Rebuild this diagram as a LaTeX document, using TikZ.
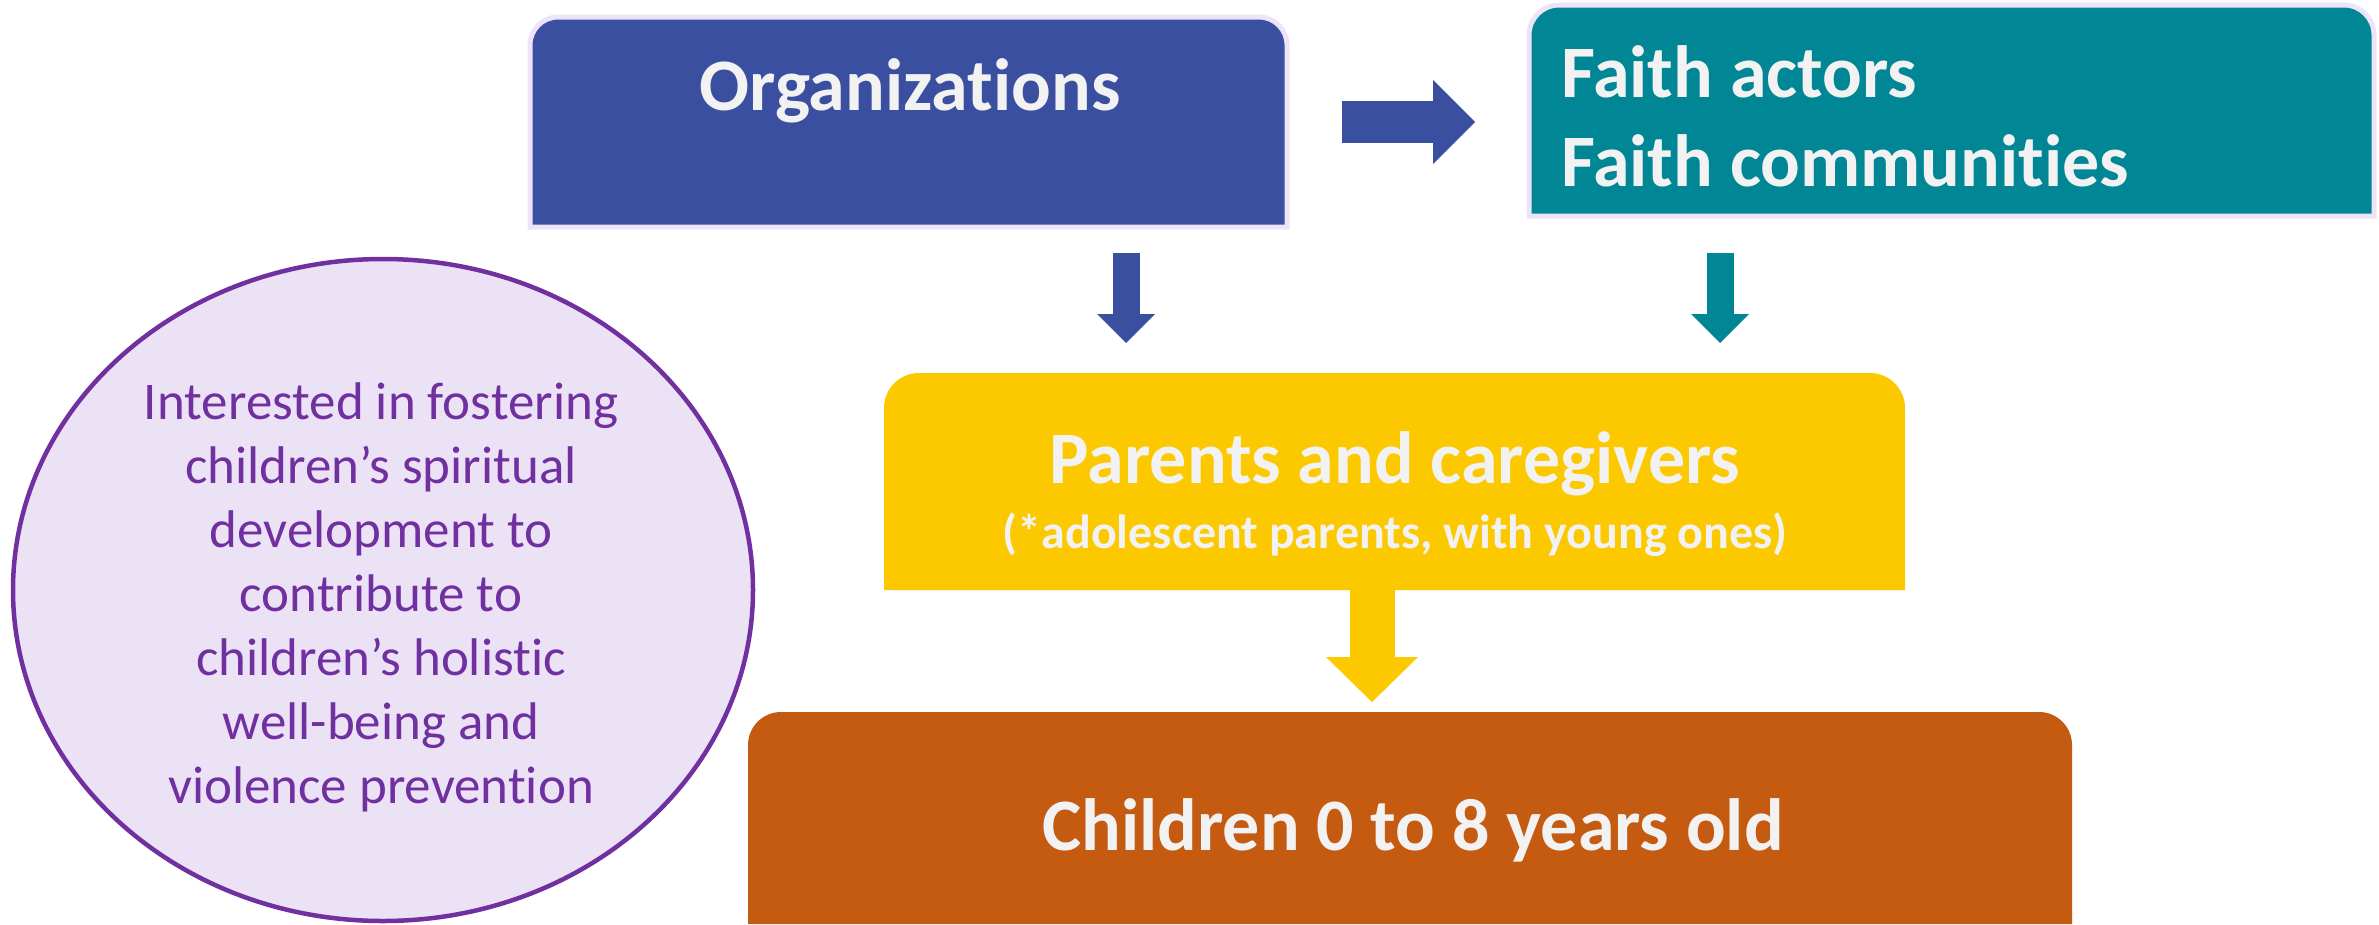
\documentclass[tikz,border=0pt]{standalone}
\usepackage{fontspec}
\setmainfont[Ligatures=NoCommon]{Carlito}
\usepackage{tikz}
\usetikzlibrary{positioning, arrows.meta, calc, shapes.geometric}

\definecolor{orgblue}{RGB}{58,79,160}
\definecolor{faithteal}{RGB}{0,134,149}
\definecolor{parentyellow}{RGB}{252,200,0}
\definecolor{kidorange}{RGB}{197,90,17}
\definecolor{boxedge}{RGB}{237,228,247}
\definecolor{notefill}{RGB}{236,226,246}
\definecolor{notepurple}{RGB}{112,48,160}
\definecolor{boxwhite}{RGB}{242,242,242}

\begin{document}
\begin{tikzpicture}[x=1pt,y=-1pt,
    box/.style={inner sep=0pt, outer sep=0pt},
    title/.style={text=boxwhite, font=\fontsize{74}{89}\selectfont\bfseries, inner sep=0pt},
    subtitle/.style={text=boxwhite, font=\fontsize{48}{58}\selectfont\bfseries, inner sep=0pt},
    notetext/.style={text=notepurple, font=\fontsize{53}{64}\selectfont, align=center, inner sep=0pt},
    rightblock/.style={draw=orgblue, line width=42pt, -{Triangle[length=42pt, width=84pt, line width=0pt]}},
    downblock/.style={draw=#1, line width=27pt, -{Triangle[length=29pt, width=58pt, line width=0pt]}},
    bigdownblock/.style={draw=parentyellow, line width=45pt, -{Triangle[length=45pt, width=92pt, line width=0pt]}},
  ]

  \useasboundingbox (0,0) rectangle (2379,924);

  % side note
  \node[ellipse, draw=notepurple, fill=notefill, line width=4.5pt, minimum width=740pt, minimum height=662pt, inner sep=0pt] (note) at (383,590) {};

  % boxes
  \node[box, minimum width=757pt, minimum height=210pt] (org) at (908.5,122) {};
  \node[box, minimum width=845pt, minimum height=211pt] (faith) at (1951.5,110.5) {};
  \node[box, minimum width=1021pt, minimum height=217pt] (parents) at (1394.5,481.5) {};
  \node[box, minimum width=1324pt, minimum height=212pt] (kids) at (1410,818) {};

  \filldraw[fill=orgblue, draw=boxedge, line width=5pt] (org.west) -- (org.south west) -- (org.south east) -- (org.east) [rounded corners=28pt] -- (org.north east) -- (org.north west) -- cycle;
  \filldraw[fill=faithteal, draw=boxedge, line width=5pt] (faith.west) -- (faith.south west) -- (faith.south east) -- (faith.east) [rounded corners=30pt] -- (faith.north east) -- (faith.north west) -- cycle;
  \fill[parentyellow] (parents.west) -- (parents.south west) -- (parents.south east) -- (parents.east) [rounded corners=35pt] -- (parents.north east) -- (parents.north west) -- cycle;
  \fill[kidorange] (kids.west) -- (kids.south west) -- (kids.south east) -- (kids.east) [rounded corners=33pt] -- (kids.north east) -- (kids.north west) -- cycle;

  % arrows
  \coordinate (orgout) at ($(org.south)+(217.5,0)$);
  \coordinate (faithout) at ($(faith.south)+(-231.5,0)$);
  \coordinate (parentsout) at ($(parents.south)+(-22.5,0)$);

  \draw[rightblock, shorten <=55pt, shorten >=54pt] (org.east) -- (org.east -| faith.west);
  \draw[downblock=orgblue, shorten <=26pt, shorten >=30pt] (orgout) -- (orgout |- parents.north);
  \draw[downblock=faithteal, shorten <=37pt, shorten >=30pt] (faithout) -- (faithout |- parents.north);
  \draw[bigdownblock, shorten >=10pt] (parentsout) -- (parentsout |- kids.north);

  % texts
  \node[title, anchor=base] (orgtitle) at (910,110) {Organizations};
  \node[title, anchor=base west] (faithtitle) at (1561,97) {Faith actors};
  \node[title, anchor=base west] (faithsub) at (1561,186) {Faith communities};
  \node[title, anchor=base] (parentstitle) at (1395,483) {Parents and caregivers};
  \node[subtitle, anchor=base] (parentssub) at (1395,548) {(*adolescent parents, with young ones)};
  \node[title, anchor=base] (kidstitle) at (1413,850) {Children 0 to 8 years old};
  \node[notetext] (notetitle) at (381,597) {Interested in fostering\\children’s spiritual\\development to\\contribute to\\children’s holistic\\well-being and\\violence prevention};

\end{tikzpicture}
\end{document}
